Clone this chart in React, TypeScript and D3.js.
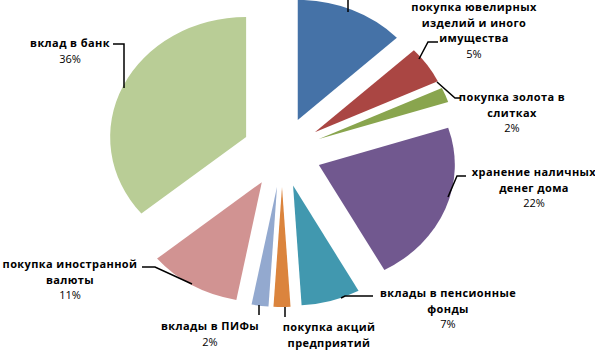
import React, { useEffect, useRef } from 'react'
import * as d3 from 'd3'

// категории по часовой стрелке, начиная с 12 часов
const categories = [
  'покупка недвижимости',
  'покупка ювелирных изделий и иного имущества',
  'покупка золота в слитках',
  'хранение наличных денег дома',
  'вклады в пенсионные фонды',
  'покупка акций предприятий',
  'вклады в ПИФы',
  'покупка иностранной валюты',
  'вклад в банк',
]
const values = [13, 5, 2, 22, 7, 2, 2, 11, 36]
const colors = ['#4572A7', '#AA4643', '#89A54E', '#71588F', '#4198AF', '#DB843D', '#93A9CF', '#D19392', '#B9CD96']

// label layout: text lines, center x, first baseline, leader polyline
const labelLines = [
  [],
  ['покупка ювелирных', 'изделий и иного', 'имущества'],
  ['покупка золота в', 'слитках'],
  ['хранение наличных', 'денег дома'],
  ['вклады в пенсионные', 'фонды'],
  ['покупка акций', 'предприятий'],
  ['вклады в ПИФы'],
  ['покупка иностранной', 'валюты'],
  ['вклад в банк'],
]
const labelPos = [
  { x: 348, y: -40, line: [[348, 12], [348, 0]] },
  { x: 474, y: 11, line: [[419, 59], [428, 42], [438, 42]] },
  { x: 512, y: 101, line: [[437, 82], [455, 98], [461, 98]] },
  { x: 534, y: 176, line: [[448, 197], [457, 176], [466, 176]] },
  { x: 448, y: 297, line: [[341, 298], [345, 296], [373, 296]] },
  { x: 329, y: 331, line: [[285, 307], [285, 317]] },
  { x: 210, y: 330, line: [[259, 305], [259, 315]] },
  { x: 70, y: 268, line: [[192, 284], [155, 267], [142, 267]] },
  { x: 70, y: 47, line: [[124, 88], [124, 44], [113, 44]] },
]

export default function App() {
  const svgRef = useRef<SVGSVGElement>(null)

  useEffect(() => {
    const width = 595
    const height = 350
    const cx = 282
    const cy = 152
    const radius = 120
    const explode = 35
    const stretch = 1.133

    const svg = d3.select(svgRef.current)
      .attr('width', width)
      .attr('height', height)
    svg.selectAll('*').remove()

    const pie = d3.pie<number>().sort(null).value(d => d)
    const arcs = pie(values)
    const arc = d3.arc<d3.PieArcDatum<number>>().innerRadius(0).outerRadius(radius)

    const g = svg.append('g')
      .attr('transform', `translate(${cx},${cy}) scale(${stretch},1)`)

    g.selectAll('path')
      .data(arcs)
      .join('path')
      .attr('fill', (d, i) => colors[i])
      .attr('d', arc)
      .attr('transform', d => {
        const mid = (d.startAngle + d.endAngle) / 2
        return `translate(${explode * Math.sin(mid)},${-explode * Math.cos(mid)})`
      })

    // leader lines
    const line = d3.line()
    svg.append('g')
      .selectAll('path')
      .data(labelPos)
      .join('path')
      .attr('d', d => line(d.line as [number, number][]))
      .attr('fill', 'none')
      .attr('stroke', '#000')
      .attr('stroke-width', 1.5)

    // labels
    const lineH = 15.5
    labelPos.forEach((p, i) => {
      const lines = labelLines[i]
      if (!lines.length) return
      const t = svg.append('text')
        .attr('text-anchor', 'middle')
        .attr('font-family', '"Open Sans", sans-serif')
        .attr('font-size', 11)
        .attr('fill', '#000')
      lines.forEach((l, k) => {
        t.append('tspan')
          .attr('x', p.x)
          .attr('y', p.y + k * lineH)
          .attr('font-weight', 'bold')
          .attr('letter-spacing', 0.4)
          .text(l)
      })
      const py = p.y + lines.length * lineH
      // the reference crops the chart at the bottom edge: skip a value that falls outside
      if (py < height) {
        t.append('tspan')
          .attr('x', p.x)
          .attr('y', py)
          .text(`${values[i]}%`)
      }
    })
  }, [])

  return (
    <svg ref={svgRef} style={{ position: 'absolute', left: 0, top: 0, background: '#fff' }}></svg>
  )
}
